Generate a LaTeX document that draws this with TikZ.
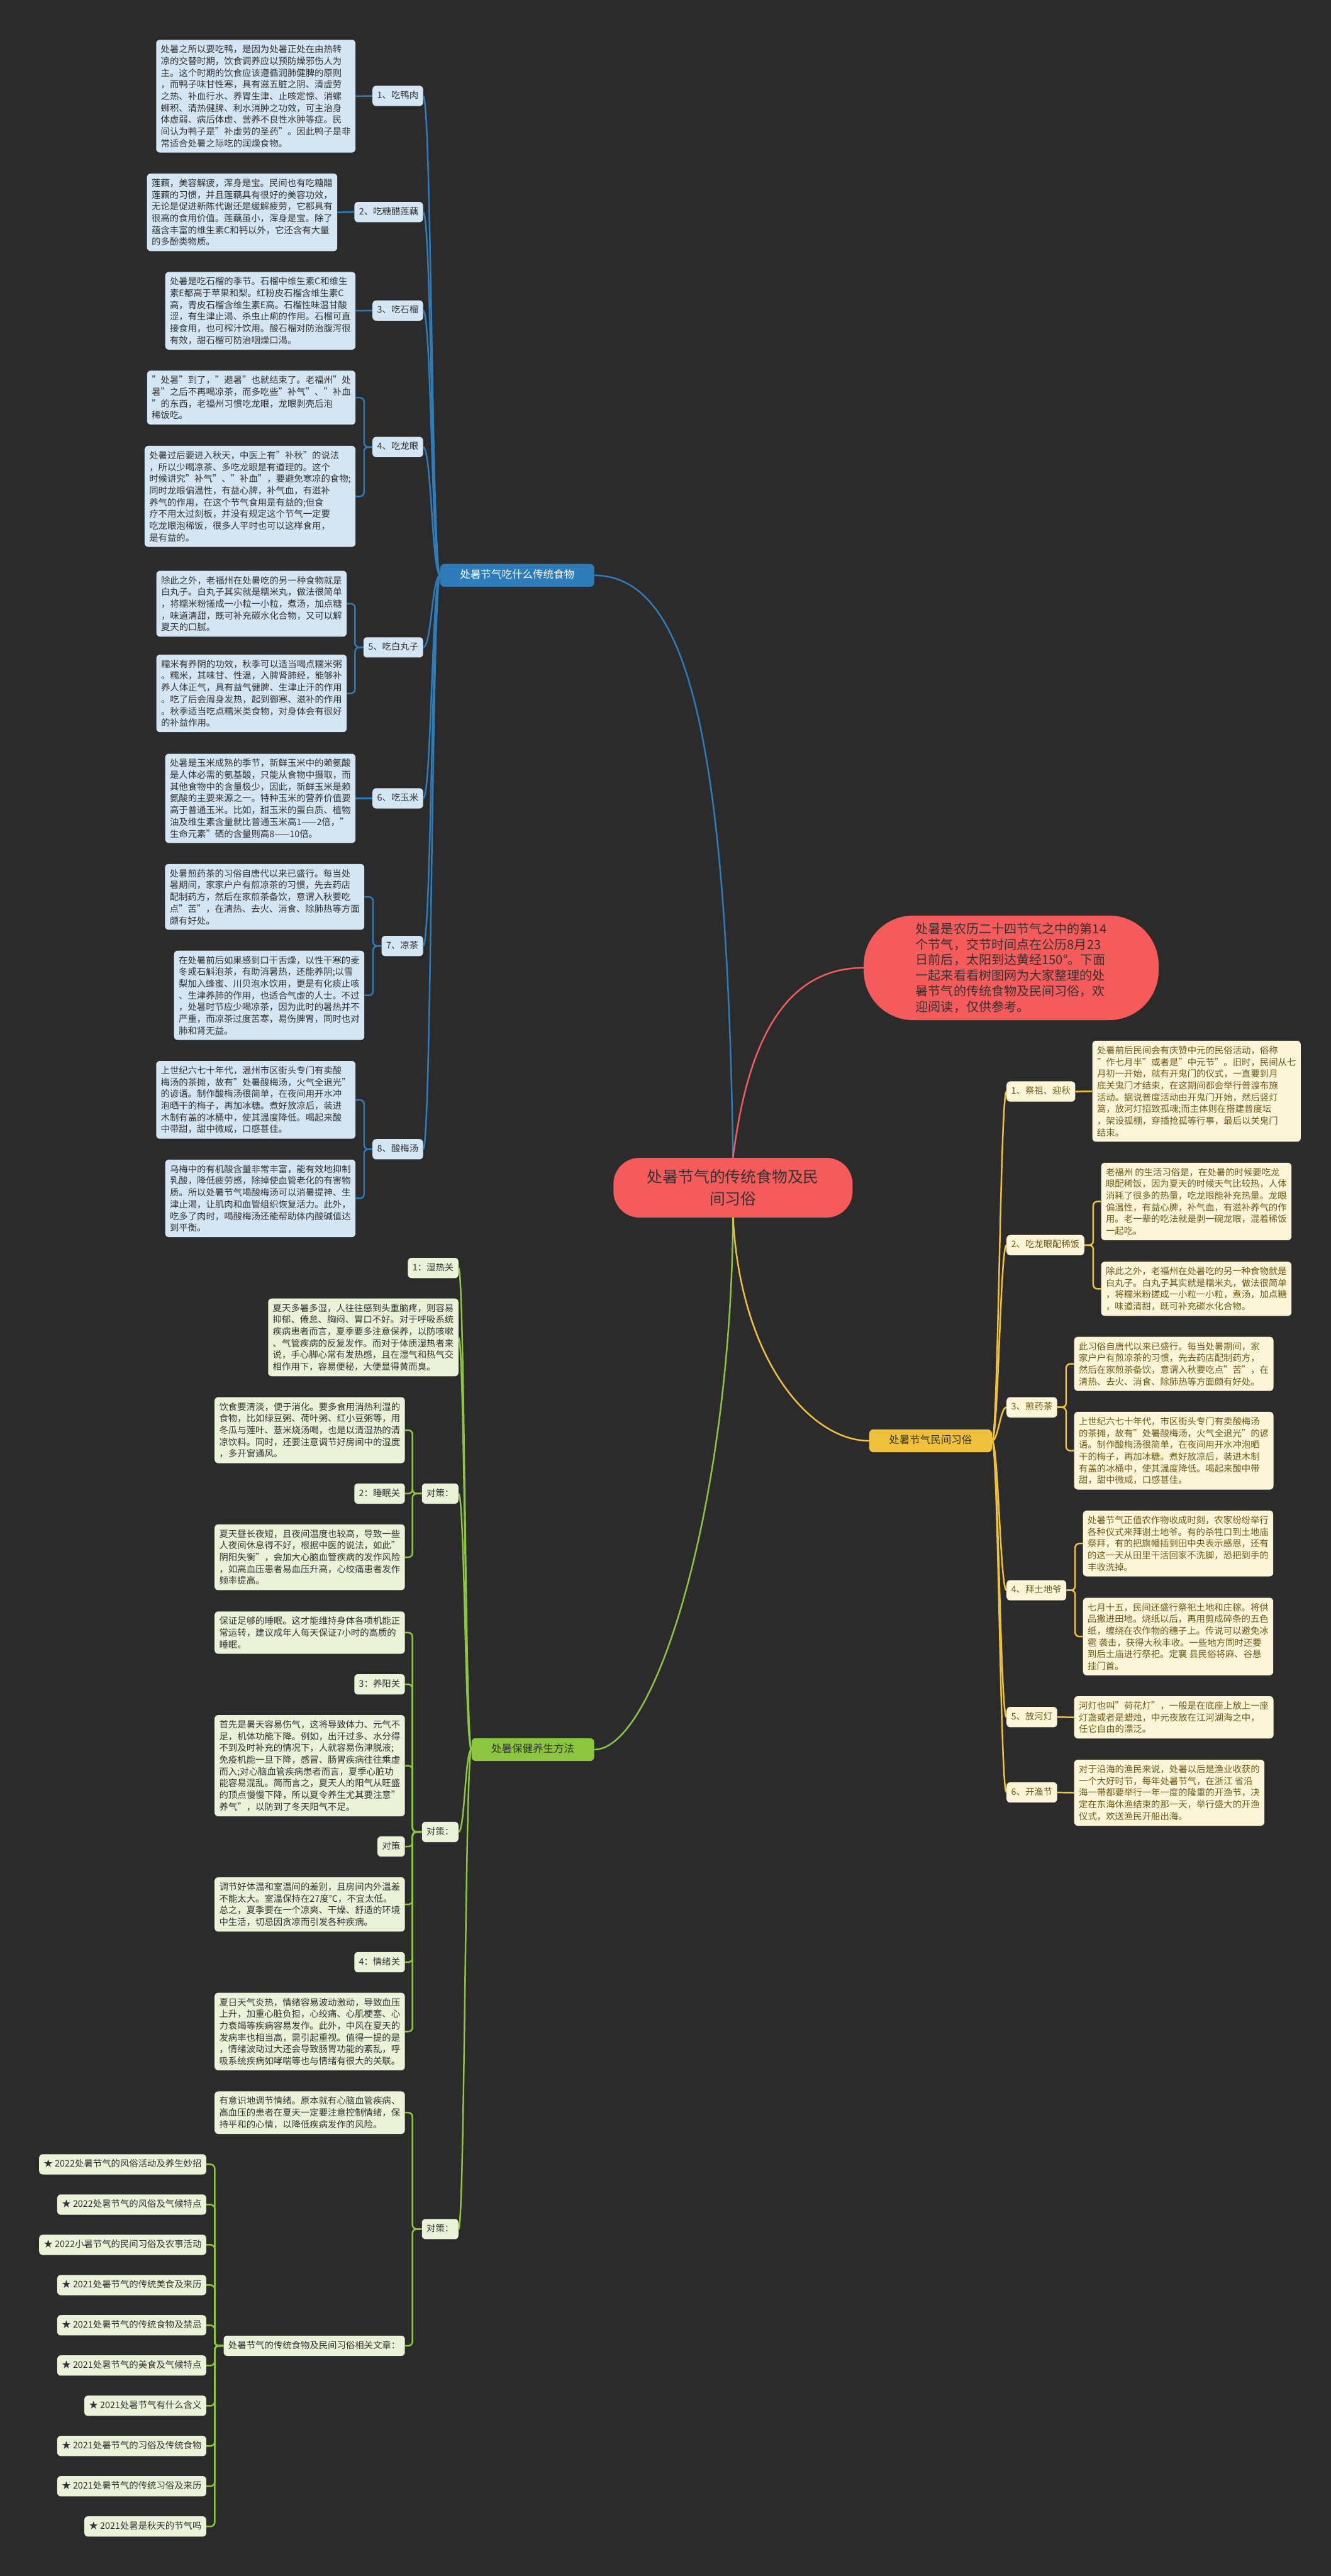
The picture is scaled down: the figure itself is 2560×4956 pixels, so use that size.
\documentclass[tikz,border=0pt]{standalone}
\usepackage{fontspec}
\setmainfont{Noto Sans CJK SC}
\usetikzlibrary{positioning}
\definecolor{bgGray}{HTML}{2B2B2B}
\definecolor{darkText}{HTML}{333333}
\definecolor{foodBlue}{HTML}{2E7DBA}
\definecolor{foodPale}{HTML}{D4E6F4}
\definecolor{healthGreen}{HTML}{8CC63F}
\definecolor{healthPale}{HTML}{EAF3D8}
\definecolor{customGold}{HTML}{F0C23B}
\definecolor{customPale}{HTML}{FDF5D8}
\definecolor{customText}{HTML}{6E5A16}
\definecolor{introRed}{HTML}{F55B5B}
\newcommand\noteFont{\fontsize{17.4}{22.6}\selectfont}
\newcommand\headFont{\fontsize{20}{26}\selectfont}
\tikzset{
		edgeStyle/.style  = {line width = 3pt},
		foodLine/.style   = {edgeStyle, draw=foodBlue},
		healthLine/.style = {edgeStyle, draw=healthGreen},
		customLine/.style = {edgeStyle, draw=customGold},
		introLine/.style  = {edgeStyle, draw=introRed},
		bracket/.style    = {rounded corners=8pt},
		noteBox/.style    = {rounded corners=7pt, align=left, inner xsep=9pt, inner ysep=10pt, font=\noteFont},
		tagBox/.style     = {noteBox, text height=14pt, text depth=4pt, inner ysep=10.5pt},
		foodNote/.style   = {noteBox, fill=foodPale, text=darkText, anchor=east},
		foodTag/.style    = {tagBox, fill=foodPale, text=darkText, anchor=east},
		healthNote/.style = {noteBox, fill=healthPale, text=darkText, anchor=east},
		healthTag/.style  = {tagBox, fill=healthPale, text=darkText, anchor=east},
		customNote/.style = {noteBox, fill=customPale, text=customText, anchor=west},
		customTag/.style  = {tagBox, fill=customPale, text=customText, anchor=west},
		headBox/.style    = {rounded corners=8pt, font=\headFont, inner xsep=38pt, inner ysep=12pt, text height=16pt, text depth=4pt}
}

\begin{document}
\begin{tikzpicture}[x=1pt,y=-1pt]
  \fill[bgGray] (0,0) rectangle (2560,4956);
  \useasboundingbox (0,0) rectangle (2560,4956);

  % Draw root, intro and the three branch heads
  \node [fill=introRed, text=darkText, rounded corners=50pt, align=center, inner xsep=65pt, inner ysep=22pt,
         font=\fontsize{30}{43}\selectfont] (root) at (1410,2285) {处暑节气的传统食物及民\\间习俗};
  \node [fill=introRed, text=darkText, rounded corners=95pt, align=left, inner xsep=100pt, inner ysep=14pt,
         font=\fontsize{24.3}{30}\selectfont] (intro) at (1945,1862)
        {处暑是农历二十四节气之中的第14\\个节气，交节时间点在公历8月23\\日前后，太阳到达黄经150°。下面\\一起来看看树图网为大家整理的处\\暑节气的传统食物及民间习俗，欢\\迎阅读，仅供参考。};
  \node [headBox, fill=foodBlue, text=white] (food) at (995,1107) {处暑节气吃什么传统食物};
  \node [headBox, fill=customGold, text=darkText] (custom) at (1790,2772) {处暑节气民间习俗};
  \node [headBox, fill=healthGreen, text=darkText] (health) at (1025,3366) {处暑保健养生方法};

  % Draw main branches
  \draw [foodLine] (root.north) .. controls (1398,1450) and (1330,1107) .. (food.east);
  \draw [introLine] (root.north) .. controls (1440,1985) and (1520,1862) .. (intro.west);
  \draw [healthLine] (root.south) .. controls (1405,2900) and (1260,3366) .. (health.east);
  \draw [customLine] (root.south) .. controls (1425,2620) and (1560,2772) .. (custom.west);

  % Draw food tags
  \foreach \i/\y/\name in {1/184.5/1、吃鸭肉, 2/408/2、吃糖醋莲藕, 3/597.5/3、吃石榴, 4/860/4、吃龙眼,
                           5/1245.5/5、吃白丸子, 6/1536/6、吃玉米, 7/1820/7、凉茶, 8/2211/8、酸梅汤}
    \node [foodTag] (food\i) at (814,\y) {\name};

  % Draw food notes
  \node [foodNote] (food1a) at (684,185) {处暑之所以要吃鸭，是因为处暑正处在由热转\\凉的交替时期，饮食调养应以预防燥邪伤人为\\主。这个时期的饮食应该遵循润肺健脾的原则\\，而鸭子味甘性寒，具有滋五脏之阴、清虚劳\\之热、补血行水、养胃生津、止咳定惊、消螺\\蛳积、清热健脾、利水消肿之功效，可主治身\\体虚弱、病后体虚、营养不良性水肿等症。民\\间认为鸭子是"补虚劳的圣药"。因此鸭子是非\\常适合处暑之际吃的润燥食物。};
  \node [foodNote] (food2a) at (649,408.5) {莲藕，美容解疲，浑身是宝。民间也有吃糖醋\\莲藕的习惯，并且莲藕具有很好的美容功效，\\无论是促进新陈代谢还是缓解疲劳，它都具有\\很高的食用价值。莲藕虽小，浑身是宝。除了\\蕴含丰富的维生素C和钙以外，它还含有大量\\的多酚类物质。};
  \node [foodNote] (food3a) at (684,598) {处暑是吃石榴的季节。石榴中维生素C和维生\\素E都高于苹果和梨。红粉皮石榴含维生素C\\高，青皮石榴含维生素E高。石榴性味温甘酸\\涩，有生津止渴、杀虫止痢的作用。石榴可直\\接食用，也可榨汁饮用。酸石榴对防治腹泻很\\有效，甜石榴可防治咽燥口渴。};
  \node [foodNote] (food4a) at (684,765) {"处暑"到了，"避暑"也就结束了。老福州"处\\暑"之后不再喝凉茶，而多吃些"补气"、"补血\\"的东西，老福州习惯吃龙眼，龙眼剥壳后泡\\稀饭吃。};
  \node [foodNote] (food4b) at (684,955) {处暑过后要进入秋天，中医上有"补秋"的说法\\，所以少喝凉茶、多吃龙眼是有道理的。这个\\时候讲究"补气"、"补血"，要避免寒凉的食物;\\同时龙眼偏温性，有益心脾，补气血，有滋补\\养气的作用，在这个节气食用是有益的;但食\\疗不用太过刻板，并没有规定这个节气一定要\\吃龙眼泡稀饭，很多人平时也可以这样食用，\\是有益的。};
  \node [foodNote] (food5a) at (667,1161.5) {除此之外，老福州在处暑吃的另一种食物就是\\白丸子。白丸子其实就是糯米丸，做法很简单\\，将糯米粉搓成一小粒一小粒，煮汤，加点糖\\，味道清甜，既可补充碳水化合物，又可以解\\夏天的口腻。};
  \node [foodNote] (food5b) at (667,1334) {糯米有养阴的功效，秋季可以适当喝点糯米粥\\。糯米，其味甘、性温，入脾肾肺经，能够补\\养人体正气，具有益气健脾、生津止汗的作用\\。吃了后会周身发热，起到御寒、滋补的作用\\。秋季适当吃点糯米类食物，对身体会有很好\\的补益作用。};
  \node [foodNote] (food6a) at (684,1536) {处暑是玉米成熟的季节，新鲜玉米中的赖氨酸\\是人体必需的氨基酸，只能从食物中摄取，而\\其他食物中的含量极少，因此，新鲜玉米是赖\\氨酸的主要来源之一。特种玉米的营养价值要\\高于普通玉米。比如，甜玉米的蛋白质、植物\\油及维生素含量就比普通玉米高1——2倍，"\\生命元素"硒的含量则高8——10倍。};
  \node [foodNote] (food7a) at (701,1725.5) {处暑煎药茶的习俗自唐代以来已盛行。每当处\\暑期间，家家户户有煎凉茶的习惯，先去药店\\配制药方，然后在家煎茶备饮，意谓入秋要吃\\点"苦"，在清热、去火、消食、除肺热等方面\\颇有好处。};
  \node [foodNote] (food7b) at (701,1915) {在处暑前后如果感到口干舌燥，以性干寒的麦\\冬或石斛泡茶，有助消暑热，还能养阴;以雪\\梨加入蜂蜜、川贝泡水饮用，更是有化痰止咳\\、生津养肺的作用，也适合气虚的人士。不过\\，处暑时节应少喝凉茶，因为此时的暑热并不\\严重，而凉茶过度苦寒，易伤脾胃，同时也对\\肺和肾无益。};
  \node [foodNote] (food8a) at (684,2116) {上世纪六七十年代，温州市区街头专门有卖酸\\梅汤的茶摊，故有"处暑酸梅汤，火气全退光"\\的谚语。制作酸梅汤很简单，在夜间用开水冲\\泡晒干的梅子，再加冰糖。煮好放凉后，装进\\木制有盖的冰桶中，使其温度降低。喝起来酸\\中带甜，甜中微咸，口感甚佳。};
  \node [foodNote] (food8b) at (684,2305.5) {乌梅中的有机酸含量非常丰富，能有效地抑制\\乳酸，降低疲劳感，除掉使血管老化的有害物\\质。所以处暑节气喝酸梅汤可以消暑提神、生\\津止渴，让肌肉和血管组织恢复活力。此外，\\吃多了肉时，喝酸梅汤还能帮助体内酸碱值达\\到平衡。};

  % Draw edges of the food branch
  \foreach \i in {1,...,8}
    \draw [foodLine] (food.west) .. controls +(-16,0) and +(16,0) .. (food\i.east);
  \foreach \i in {1,2,3,6}
    \draw [foodLine] (food\i.west) -- (food\i a.east);
  \foreach \i in {4,5,7,8}
    \foreach \c in {a,b}
      \draw [foodLine, bracket] (food\i.west) -- ++(-16,0) |- (food\i\c.east);

  % Draw custom tags
  \foreach \i/\y/\name in {1/2100/1、祭祖、迎秋, 2/2395.5/2、吃龙眼配稀饭, 3/2707.5/3、煎药茶,
                           4/3059.5/4、拜土地爷, 5/3303.5/5、放河灯, 6/3448.5/6、开渔节}
    \node [customTag] (rite\i) at (1936,\y) {\name};

  % Draw custom notes
  \node [customNote] (rite1a) at (2101,2099.5) {处暑前后民间会有庆赞中元的民俗活动，俗称\\"作七月半"或者是"中元节"。旧时，民间从七\\月初一开始，就有开鬼门的仪式，一直要到月\\底关鬼门才结束，在这期间都会举行普渡布施\\活动。据说普度活动由开鬼门开始，然后竖灯\\篙，放河灯招致孤魂;而主体则在搭建普度坛\\，架设孤棚，穿插抢孤等行事，最后以关鬼门\\结束。};
  \node [customNote] (rite2a) at (2118,2311.5) {老福州 的生活习俗是，在处暑的时候要吃龙\\眼配稀饭，因为夏天的时候天气比较热，人体\\消耗了很多的热量，吃龙眼能补充热量。龙眼\\偏温性，有益心脾，补气血，有滋补养气的作\\用。老一辈的吃法就是剥一碗龙眼，混着稀饭\\一起吃。};
  \node [customNote] (rite2b) at (2118,2479.5) {除此之外，老福州在处暑吃的另一种食物就是\\白丸子。白丸子其实就是糯米丸，做法很简单\\，将糯米粉搓成一小粒一小粒，煮汤，加点糖\\，味道清甜，既可补充碳水化合物。};
  \node [customNote] (rite3a) at (2066,2624) {此习俗自唐代以来已盛行。每当处暑期间，家\\家户户有煎凉茶的习惯，先去药店配制药方，\\然后在家煎茶备饮，意谓入秋要吃点"苦"，在\\清热、去火、消食、除肺热等方面颇有好处。};
  \node [customNote] (rite3b) at (2066,2791) {上世纪六七十年代，市区街头专门有卖酸梅汤\\的茶摊，故有"处暑酸梅汤，火气全退光"的谚\\语。制作酸梅汤很简单，在夜间用开水冲泡晒\\干的梅子，再加冰糖。煮好放凉后，装进木制\\有盖的冰桶中，使其温度降低。喝起来酸中带\\甜，甜中微咸，口感甚佳。};
  \node [customNote] (rite4a) at (2083,2969.5) {处暑节气正值农作物收成时刻，农家纷纷举行\\各种仪式来拜谢土地爷。有的杀牲口到土地庙\\祭拜，有的把旗幡插到田中央表示感恩，还有\\的这一天从田里干活回家不洗脚，恐把到手的\\丰收洗掉。};
  \node [customNote] (rite4b) at (2083,3148.5) {七月十五，民间还盛行祭祀土地和庄稼。将供\\品撒进田地。烧纸以后，再用剪成碎条的五色\\纸，缠绕在农作物的穗子上。传说可以避免冰\\雹 袭击，获得大秋丰收。一些地方同时还要\\到后土庙进行祭祀。定襄 县民俗将麻、谷悬\\挂门首。};
  \node [customNote] (rite5a) at (2066,3304) {河灯也叫"荷花灯"，一般是在底座上放上一座\\灯盏或者是蜡烛，中元夜放在江河湖海之中，\\任它自由的漂泛。};
  \node [customNote] (rite6a) at (2066,3449) {对于沿海的渔民来说，处暑以后是渔业收获的\\一个大好时节，每年处暑节气，在浙江 省沿\\海一带都要举行一年一度的隆重的开渔节，决\\定在东海休渔结束的那一天，举行盛大的开渔\\仪式，欢送渔民开船出海。};

  % Draw edges of the custom branch
  \foreach \i in {1,...,6}
    \draw [customLine] (custom.east) .. controls +(12,0) and +(-12,0) .. (rite\i.west);
  \foreach \i in {1,5,6}
    \draw [customLine] (rite\i.east) -- (rite\i a.west);
  \foreach \i in {2,3,4}
    \foreach \c in {a,b}
      \draw [customLine, bracket] (rite\i.east) -- ++(17,0) |- (rite\i\c.west);

  % Draw health tags
  \foreach \n/\x/\y/\name in {wet/882/2439.5/1：湿热关, plan1/882/2873.5/对策：, plan2/882/3524.5/对策：,
                              plan3/882/4288.5/对策：, sleep/779/2873.5/2：睡眠关, yang/779/3240.5/3：养阳关,
                              tactic/779/3552.5/对策, mood/779/3775/4：情绪关}
    \node [healthTag] (\n) at (\x,\y) {\name};

  % Draw health notes
  \node [healthNote] (wetNote) at (882,2573) {夏天多暑多湿，人往往感到头重脑疼，则容易\\抑郁、倦怠、胸闷、胃口不好。对于呼吸系统\\疾病患者而言，夏季要多注意保养，以防咳嗽\\、气管疾病的反复发作。而对于体质湿热者来\\说，手心脚心常有发热感，且在湿气和热气交\\相作用下，容易便秘，大便显得黄而臭。};
  \node [healthNote] (diet) at (779,2751.5) {饮食要清淡，便于消化。要多食用消热利湿的\\食物，比如绿豆粥、荷叶粥、红小豆粥等，用\\冬瓜与莲叶、薏米烧汤喝，也是以清湿热的清\\凉饮料。同时，还要注意调节好房间中的湿度\\，多开窗通风。};
  \node [healthNote] (sleepNote) at (779,2996) {夏天昼长夜短，且夜间温度也较高，导致一些\\人夜间休息得不好，根据中医的说法，如此"\\阴阳失衡"，会加大心脑血管疾病的发作风险\\，如高血压患者易血压升高，心绞痛患者发作\\频率提高。};
  \node [healthNote] (rest) at (779,3141) {保证足够的睡眠。这才能维持身体各项机能正\\常运转，建议成年人每天保证7小时的高质的\\睡眠。};
  \node [healthNote] (yangNote) at (779,3397) {首先是暑天容易伤气，这将导致体力、元气不\\足，机体功能下降。例如，出汗过多、水分得\\不到及时补充的情况下，人就容易伤津脱液;\\免疫机能一旦下降，感冒、肠胃疾病往往乘虚\\而入;对心脑血管疾病患者而言，夏季心脏功\\能容易混乱。简而言之，夏天人的阳气从旺盛\\的顶点慢慢下降，所以夏令养生尤其要注意"\\养气"，以防到了冬天阳气不足。};
  \node [healthNote] (temp) at (779,3664) {调节好体温和室温间的差别，且房间内外温差\\不能太大。室温保持在27度℃，不宜太低。\\总之，夏季要在一个凉爽、干燥、舒适的环境\\中生活，切忌因贪凉而引发各种疾病。};
  \node [healthNote] (moodNote) at (779,3908.5) {夏日天气炎热，情绪容易波动激动，导致血压\\上升，加重心脏负担，心绞痛、心肌梗塞、心\\力衰竭等疾病容易发作。此外，中风在夏天的\\发病率也相当高，需引起重视。值得一提的是\\，情绪波动过大还会导致肠胃功能的紊乱，呼\\吸系统疾病如哮喘等也与情绪有很大的关联。};
  \node [healthNote] (calm) at (779,4064.5) {有意识地调节情绪。原本就有心脑血管疾病、\\高血压的患者在夏天一定要注意控制情绪，保\\持平和的心情，以降低疾病发作的风险。};
  \node [healthTag] (links) at (779,4513) {处暑节气的传统食物及民间习俗相关文章：};

  % Draw list of related articles
  \foreach \k/\name in {1/2022处暑节气的风俗活动及养生妙招, 2/2022处暑节气的风俗及气候特点,
                        3/2022小暑节气的民间习俗及农事活动, 4/2021处暑节气的传统美食及来历,
                        5/2021处暑节气的传统食物及禁忌, 6/2021处暑节气的美食及气候特点,
                        7/2021处暑节气有什么含义, 8/2021处暑节气的习俗及传统食物,
                        9/2021处暑节气的传统习俗及来历, 10/2021处暑是秋天的节气吗}
    \node [healthTag] (link\k) at (397,{4164+77.4*(\k-1)}) {★ \name};

  % Draw edges of the health branch
  \foreach \c in {wet,wetNote,plan1,plan2,plan3}
    \draw [healthLine] (health.west) .. controls +(-12,0) and +(12,0) .. (\c.east);
  \foreach \c in {diet,sleep,sleepNote}
    \draw [healthLine, bracket] (plan1.west) -- ++(-18,0) |- (\c.east);
  \foreach \c in {rest,yang,yangNote,tactic,temp,mood,moodNote}
    \draw [healthLine, bracket] (plan2.west) -- ++(-18,0) |- (\c.east);
  \foreach \c in {calm,links}
    \draw [healthLine, bracket] (plan3.west) -- ++(-18,0) |- (\c.east);
  \foreach \k in {1,...,10}
    \draw [healthLine, bracket] (links.west) -- ++(-17,0) |- (link\k.east);

\end{tikzpicture}
\end{document}
